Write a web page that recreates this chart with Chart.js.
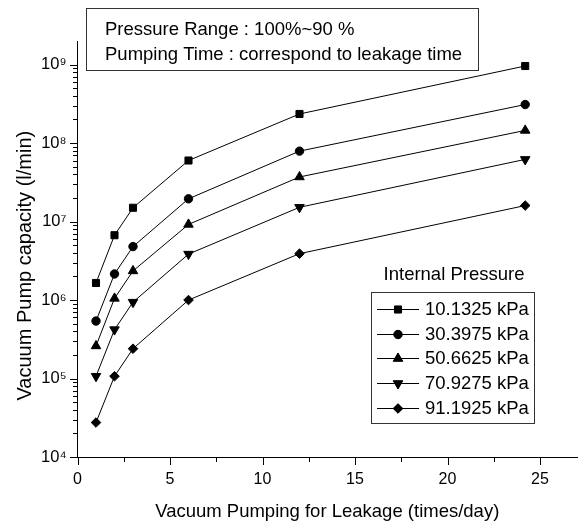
<!DOCTYPE html>
<html><head><meta charset="utf-8">
<script src="https://cdn.jsdelivr.net/npm/chart.js@4.4.0/dist/chart.umd.min.js"></script>
<style>html,body{margin:0;padding:0;background:#fff}canvas{display:block}</style>
</head><body>
<canvas id="c" width="587" height="523"></canvas>
<script>
// ---- data ----
const xValues = [1, 2, 3, 6, 12, 24.2];
const seriesNames = ['10.1325 kPa', '30.3975 kPa', '50.6625 kPa', '70.9275 kPa', '91.1925 kPa'];
const cap101325 = [1.65e6, 6.7e6, 1.5e7, 6.0e7, 2.35e8, 9.6e8];
const cap303975 = [5.4e5, 2.15e6, 4.8e6, 1.95e7, 7.9e7, 3.1e8];
const cap506625 = [2.6e5, 1.05e6, 2.35e6, 9.2e6, 3.7e7, 1.45e8];
const cap709275 = [1.07e5, 4.2e5, 9.4e5, 3.85e6, 1.52e7, 6.2e7];
const cap911925 = [2.75e4, 1.07e5, 2.4e5, 1.0e6, 3.9e6, 1.6e7];
const xMajorTicks = [0, 5, 10, 15, 20, 25];
const xMinorTicks = [2.5, 7.5, 12.5, 17.5, 22.5];
const yExponents = [4, 5, 6, 7, 8, 9];
const infoLines = ['Pressure Range : 100%~90 %', 'Pumping Time : correspond to leakage time'];
const legendTitle = 'Internal Pressure';
const xTitle = 'Vacuum Pumping for Leakage (times/day)';
const yTitle = 'Vacuum Pump capacity (l/min)';

// ---- styles ----
const FONT = '"Liberation Sans", Arial, sans-serif';
const markers = [
  {pointStyle: 'rect', rotation: 0, radius: 5},
  {pointStyle: 'circle', rotation: 0, radius: 4.2},
  {pointStyle: 'triangle', rotation: 0, radius: 5.5},
  {pointStyle: 'triangle', rotation: 180, radius: 5.5},
  {pointStyle: 'rectRot', rotation: 0, radius: 4.8}
];
const seriesValues = [cap101325, cap303975, cap506625, cap709275, cap911925];
const SUP = {'0':'⁰','1':'¹','2':'²','3':'³','4':'⁴','5':'⁵','6':'⁶','7':'⁷','8':'⁸','9':'⁹','-':'⁻'};
const sup = n => String(n).split('').map(c => SUP[c]).join('');

const datasets = seriesValues.map((vals, i) => ({
  label: seriesNames[i],
  data: xValues.map((x, j) => ({x, y: vals[j]})),
  borderColor: '#000', backgroundColor: '#000', borderWidth: 1,
  pointStyle: markers[i].pointStyle, pointRotation: markers[i].rotation,
  pointRadius: markers[i].radius, pointHoverRadius: markers[i].radius,
  pointBorderWidth: 1, pointBackgroundColor: '#000', pointBorderColor: '#000',
  tension: 0, fill: false
}));

const decorPlugin = {
  id: 'decor',
  afterDraw(chart) {
    const ctx = chart.ctx, xs = chart.scales.x, ys = chart.scales.y, a = chart.chartArea;
    ctx.save();
    ctx.strokeStyle = '#000'; ctx.lineWidth = 1;
    // tick marks
    ctx.beginPath();
    xs.ticks.forEach(t => {
      const px = Math.round(xs.getPixelForValue(t.value)) + 0.5;
      const len = t.major ? 8 : 5;
      ctx.moveTo(px, Math.round(a.bottom)); ctx.lineTo(px, Math.round(a.bottom) + len);
    });
    ys.ticks.forEach(t => {
      const py = Math.round(ys.getPixelForValue(t.value)) + 0.5;
      const len = t.major ? 8 : 5;
      ctx.moveTo(Math.round(a.left) - len, py); ctx.lineTo(Math.round(a.left), py);
    });
    ctx.stroke();
    // info box
    ctx.strokeStyle = '#333';
    ctx.strokeRect(86.5, 8.5, 392, 62);
    ctx.fillStyle = '#000';
    ctx.font = '18.5px ' + FONT;
    ctx.textAlign = 'left'; ctx.textBaseline = 'alphabetic';
    ctx.fillText(infoLines[0], 105, 35);
    ctx.fillText(infoLines[1], 105, 60);
    // legend
    ctx.textAlign = 'center';
    ctx.fillText(legendTitle, 454, 280);
    ctx.strokeRect(371.5, 292.5, 163, 131);
    ctx.textAlign = 'left'; ctx.textBaseline = 'middle';
    chart.data.datasets.forEach((ds, i) => {
      const yy = 309 + i * 24.7;
      ctx.strokeStyle = '#000';
      ctx.beginPath(); ctx.moveTo(377, Math.round(yy) + 0.5); ctx.lineTo(419, Math.round(yy) + 0.5); ctx.stroke();
      ctx.fillStyle = '#000';
      Chart.helpers.drawPoint(ctx, {pointStyle: ds.pointStyle, rotation: ds.pointRotation, radius: ds.pointRadius, borderWidth: 1}, 398, Math.round(yy) + 0.5);
      ctx.fill();
      ctx.fillStyle = '#000';
      ctx.fillText(ds.label, 425, yy + 1);
    });
    ctx.restore();
  }
};

new Chart(document.getElementById('c'), {
  type: 'line',
  data: {datasets},
  plugins: [decorPlugin],
  options: {
    responsive: false, animation: false,
    layout: {padding: {top: 41, right: 10, left: 0, bottom: 0}},
    plugins: {legend: {display: false}, tooltip: {enabled: false}},
    scales: {
      x: {
        type: 'linear', min: 0, max: 27,
        grid: {display: false, drawTicks: true, tickLength: 8},
        border: {display: true, color: '#000', width: 1},
        ticks: {
          autoSkip: false, includeBounds: false, padding: 5, color: '#000',
          font: {family: FONT, size: 16},
          callback: v => (xMajorTicks.includes(v) ? String(v) : '')
        },
        afterBuildTicks: s => {
          s.ticks = xMajorTicks.map(v => ({value: v, major: true}))
            .concat(xMinorTicks.map(v => ({value: v, major: false})))
            .sort((p, q) => p.value - q.value);
        },
        afterFit: s => { s.height = 66; },
        title: {display: true, text: xTitle, color: '#000', font: {family: FONT, size: 18.5}, padding: {top: 7, bottom: 0}}
      },
      y: {
        type: 'logarithmic', min: 1e4, max: 2e9,
        grid: {display: false, drawTicks: true, tickLength: 8},
        border: {display: true, color: '#000', width: 1},
        ticks: {
          autoSkip: false, padding: 3, color: '#000',
          font: {family: FONT, size: 16.5},
          callback: v => {
            const e = Math.round(Math.log10(v));
            return Math.abs(Math.log10(v) - e) < 1e-9 ? '10' + sup(e) : '';
          }
        },
        afterBuildTicks: s => {
          const t = [];
          yExponents.forEach(e => {
            for (let m = 1; m <= 9; m++) {
              const v = m * Math.pow(10, e);
              if (v <= 1e9 * 1.0000001) t.push({value: v, major: m === 1});
            }
          });
          s.ticks = t;
        },
        afterFit: s => { s.width = 77.5; },
        title: {display: true, text: yTitle + '      ', color: '#000', font: {family: FONT, size: 20}, padding: {top: 13, bottom: 0}}
      }
    }
  }
});
</script>
</body></html>
